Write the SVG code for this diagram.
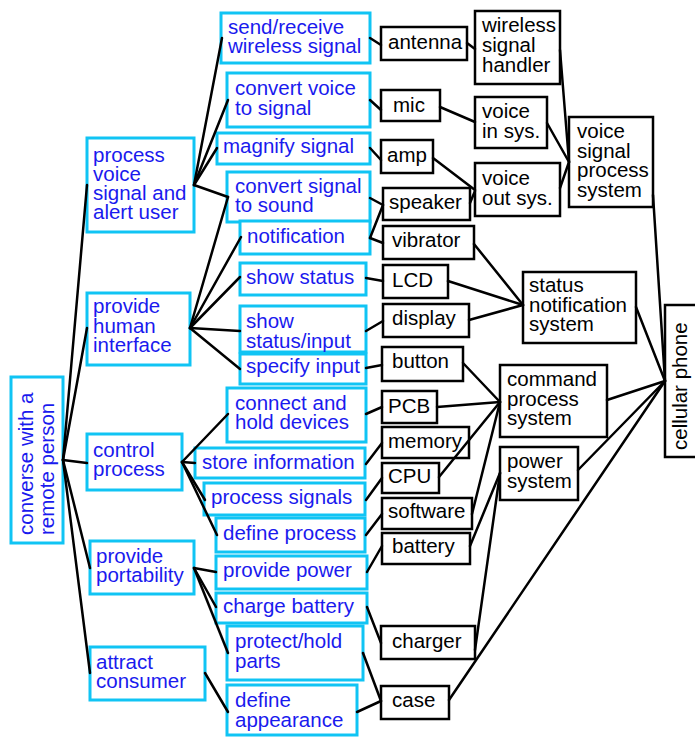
<svg xmlns="http://www.w3.org/2000/svg" width="695" height="737" viewBox="0 0 695 737">
<style>
.b rect{fill:#fff;stroke:#10c4f4;stroke-width:3}
.b text{fill:#1a1aee}
.k rect{fill:#fff;stroke:#000;stroke-width:2.5}
.k text{fill:#000}
text{font-family:"Liberation Sans",Arial,sans-serif;font-size:20.5px}
#connectors line{stroke:#000;stroke-width:2.5;stroke-linecap:round}
</style>
<rect width="695" height="737" fill="#fff"/>
<g id="nodes">
<g id="root" class="b"><rect x="11" y="377" width="52" height="166"/>
<text transform="translate(33,535) rotate(-90)">converse with a</text>
<text transform="translate(54,535) rotate(-90)">remote person</text></g>
<g id="processVoice" class="b"><rect x="87" y="138" width="107" height="94"/>
<text x="93" y="162">process</text><text x="93" y="181">voice</text><text x="93" y="200">signal and</text><text x="93" y="219">alert user</text></g>
<g id="humanInterface" class="b"><rect x="87" y="293" width="103" height="72"/>
<text x="93" y="313">provide</text><text x="93" y="333">human</text><text x="93" y="352">interface</text></g>
<g id="controlProcess" class="b"><rect x="87" y="434" width="95" height="56"/>
<text x="93" y="457">control</text><text x="93" y="476">process</text></g>
<g id="portability" class="b"><rect x="90" y="541" width="104" height="53"/>
<text x="96" y="563">provide</text><text x="96" y="582">portability</text></g>
<g id="attractConsumer" class="b"><rect x="90" y="647" width="115" height="53"/>
<text x="96" y="669">attract</text><text x="96" y="688">consumer</text></g>

<g id="sendReceive" class="b"><rect x="221" y="13" width="149" height="50"/>
<text x="228" y="34">send/receive</text><text x="228" y="53">wireless signal</text></g>
<g id="convertVoice" class="b"><rect x="227" y="73" width="143" height="54"/>
<text x="235" y="95">convert voice</text><text x="235" y="115">to signal</text></g>
<g id="magnify" class="b"><rect x="217" y="133" width="153" height="31"/>
<text x="223" y="153">magnify signal</text></g>
<g id="convertSound" class="b"><rect x="227" y="172" width="143" height="50"/>
<text x="235" y="193">convert signal</text><text x="235" y="212">to sound</text></g>
<g id="notification" class="b"><rect x="240" y="221" width="130" height="33"/>
<text x="247" y="243">notification</text></g>
<g id="showStatus" class="b"><rect x="240" y="263" width="126" height="32"/>
<text x="246" y="284">show status</text></g>
<g id="showStatusInput" class="b"><rect x="240" y="306" width="126" height="46"/>
<text x="246" y="328">show</text><text x="246" y="348">status/input</text></g>
<g id="specifyInput" class="b"><rect x="240" y="354" width="126" height="30"/>
<text x="246" y="373">specify input</text></g>
<g id="connectHold" class="b"><rect x="227" y="388" width="139" height="54"/>
<text x="235" y="410">connect and</text><text x="235" y="429">hold devices</text></g>
<g id="storeInfo" class="b"><rect x="195" y="448" width="170" height="30"/>
<text x="202" y="469">store information</text></g>
<g id="processSignals" class="b"><rect x="204" y="483" width="161" height="32"/>
<text x="211" y="504">process signals</text></g>
<g id="defineProcess" class="b"><rect x="216" y="518" width="149" height="34"/>
<text x="223" y="540">define process</text></g>
<g id="providePower" class="b"><rect x="216" y="556" width="151" height="33"/>
<text x="223" y="577">provide power</text></g>
<g id="chargeBattery" class="b"><rect x="216" y="593" width="151" height="30"/>
<text x="223" y="613">charge battery</text></g>
<g id="protectHold" class="b"><rect x="227" y="626" width="136" height="54"/>
<text x="235" y="648">protect/hold</text><text x="235" y="668">parts</text></g>
<g id="defineAppearance" class="b"><rect x="227" y="685" width="130" height="50"/>
<text x="235" y="707">define</text><text x="235" y="727">appearance</text></g>

<g id="antenna" class="k"><rect x="381" y="27" width="86" height="33"/><text x="388" y="49">antenna</text></g>
<g id="mic" class="k"><rect x="381" y="90" width="59" height="31"/><text x="393" y="112">mic</text></g>
<g id="amp" class="k"><rect x="381" y="140" width="52" height="33"/><text x="387" y="162">amp</text></g>
<g id="speaker" class="k"><rect x="383" y="188" width="87" height="32"/><text x="389" y="209">speaker</text></g>
<g id="vibrator" class="k"><rect x="383" y="226" width="91" height="33"/><text x="392" y="247">vibrator</text></g>
<g id="lcd" class="k"><rect x="383" y="265" width="65" height="33"/><text x="392" y="287">LCD</text></g>
<g id="display" class="k"><rect x="383" y="304" width="86" height="33"/><text x="392" y="325">display</text></g>
<g id="button" class="k"><rect x="382" y="347" width="81" height="34"/><text x="392" y="368">button</text></g>
<g id="pcb" class="k"><rect x="382" y="391" width="55" height="32"/><text x="388" y="413">PCB</text></g>
<g id="memory" class="k"><rect x="382" y="427" width="87" height="31"/><text x="388" y="448">memory</text></g>
<g id="cpu" class="k"><rect x="382" y="463" width="57" height="30"/><text x="388" y="483">CPU</text></g>
<g id="software" class="k"><rect x="382" y="498" width="90" height="31"/><text x="388" y="518">software</text></g>
<g id="battery" class="k"><rect x="382" y="533" width="88" height="31"/><text x="392" y="553">battery</text></g>
<g id="charger" class="k"><rect x="381" y="626" width="94" height="33"/><text x="392" y="648">charger</text></g>
<g id="case" class="k"><rect x="381" y="686" width="68" height="33"/><text x="392" y="707">case</text></g>

<g id="wirelessHandler" class="k"><rect x="475" y="11" width="85" height="73"/>
<text x="482" y="32">wireless</text><text x="482" y="52">signal</text><text x="482" y="72">handler</text></g>
<g id="voiceIn" class="k"><rect x="475" y="97" width="72" height="51"/>
<text x="482" y="118">voice</text><text x="482" y="138">in sys.</text></g>
<g id="voiceOut" class="k"><rect x="475" y="163" width="85" height="53"/>
<text x="482" y="185">voice</text><text x="482" y="205">out sys.</text></g>
<g id="voiceSignalProcess" class="k"><rect x="569" y="117" width="84" height="90"/>
<text x="577" y="138">voice</text><text x="577" y="157.5">signal</text><text x="577" y="177">process</text><text x="577" y="196.5">system</text></g>
<g id="statusNotification" class="k"><rect x="523" y="272" width="113" height="71"/>
<text x="529" y="292">status</text><text x="529" y="312">notification</text><text x="529" y="331">system</text></g>
<g id="commandProcess" class="k"><rect x="500" y="365" width="107" height="72"/>
<text x="507" y="386">command</text><text x="507" y="405.5">process</text><text x="507" y="425">system</text></g>
<g id="powerSystem" class="k"><rect x="500" y="447" width="78" height="53"/>
<text x="507" y="468">power</text><text x="507" y="488">system</text></g>
<g id="cellularPhone" class="k"><rect x="665" y="305" width="32" height="152"/>
<text transform="translate(687,450) rotate(-90)">cellular phone</text></g>
</g>

<g id="connectors">
<line x1="63" y1="460" x2="87" y2="185"/>
<line x1="63" y1="460" x2="87" y2="328"/>
<line x1="63" y1="460" x2="87" y2="463"/>
<line x1="63" y1="460" x2="90" y2="568"/>
<line x1="63" y1="460" x2="90" y2="673"/>
<line x1="194" y1="185" x2="222" y2="38"/>
<line x1="194" y1="185" x2="228" y2="100"/>
<line x1="194" y1="185" x2="217" y2="148"/>
<line x1="194" y1="185" x2="228" y2="197"/>
<line x1="190" y1="328" x2="228" y2="197"/>
<line x1="190" y1="328" x2="241" y2="237"/>
<line x1="190" y1="328" x2="240" y2="277"/>
<line x1="190" y1="328" x2="240" y2="331"/>
<line x1="190" y1="328" x2="240" y2="369"/>
<line x1="182" y1="462" x2="228" y2="414"/>
<line x1="182" y1="462" x2="195" y2="463"/>
<line x1="182" y1="462" x2="205" y2="500"/>
<line x1="182" y1="462" x2="217" y2="535"/>
<line x1="194" y1="568" x2="216" y2="572"/>
<line x1="194" y1="568" x2="216" y2="607"/>
<line x1="194" y1="568" x2="228" y2="653"/>
<line x1="205" y1="673" x2="228" y2="712"/>
<line x1="370" y1="38" x2="381" y2="45"/>
<line x1="370" y1="100" x2="381" y2="110"/>
<line x1="370" y1="148" x2="381" y2="160"/>
<line x1="370" y1="198" x2="383" y2="205"/>
<line x1="370" y1="238" x2="383" y2="205"/>
<line x1="370" y1="238" x2="383" y2="243"/>
<line x1="366" y1="278" x2="383" y2="281"/>
<line x1="366" y1="331" x2="383" y2="321"/>
<line x1="366" y1="368" x2="382" y2="365"/>
<line x1="366" y1="414" x2="382" y2="407"/>
<line x1="366" y1="464" x2="382" y2="443"/>
<line x1="366" y1="500" x2="382" y2="478"/>
<line x1="366" y1="535" x2="382" y2="514"/>
<line x1="367" y1="572" x2="382" y2="546"/>
<line x1="367" y1="607" x2="381" y2="643"/>
<line x1="363" y1="653" x2="381" y2="701"/>
<line x1="357" y1="712" x2="381" y2="701"/>
<line x1="467" y1="43" x2="475" y2="49"/>
<line x1="440" y1="107" x2="475" y2="122"/>
<line x1="433" y1="158" x2="475" y2="190"/>
<line x1="470" y1="203" x2="475" y2="191"/>
<line x1="474" y1="244" x2="523" y2="305"/>
<line x1="448" y1="281" x2="523" y2="305"/>
<line x1="469" y1="320" x2="523" y2="305"/>
<line x1="463" y1="363" x2="500" y2="402"/>
<line x1="437" y1="407" x2="500" y2="402"/>
<line x1="439" y1="477" x2="500" y2="402"/>
<line x1="472" y1="514" x2="500" y2="402"/>
<line x1="470" y1="546" x2="500" y2="473"/>
<line x1="475" y1="650" x2="500" y2="473"/>
<line x1="560" y1="50" x2="569" y2="162"/>
<line x1="547" y1="123" x2="569" y2="162"/>
<line x1="560" y1="188" x2="569" y2="162"/>
<line x1="653" y1="195" x2="665" y2="381"/>
<line x1="636" y1="307" x2="665" y2="381"/>
<line x1="607" y1="400" x2="665" y2="381"/>
<line x1="578" y1="470" x2="665" y2="381"/>
<line x1="449" y1="700" x2="665" y2="381"/>
</g>
</svg>
